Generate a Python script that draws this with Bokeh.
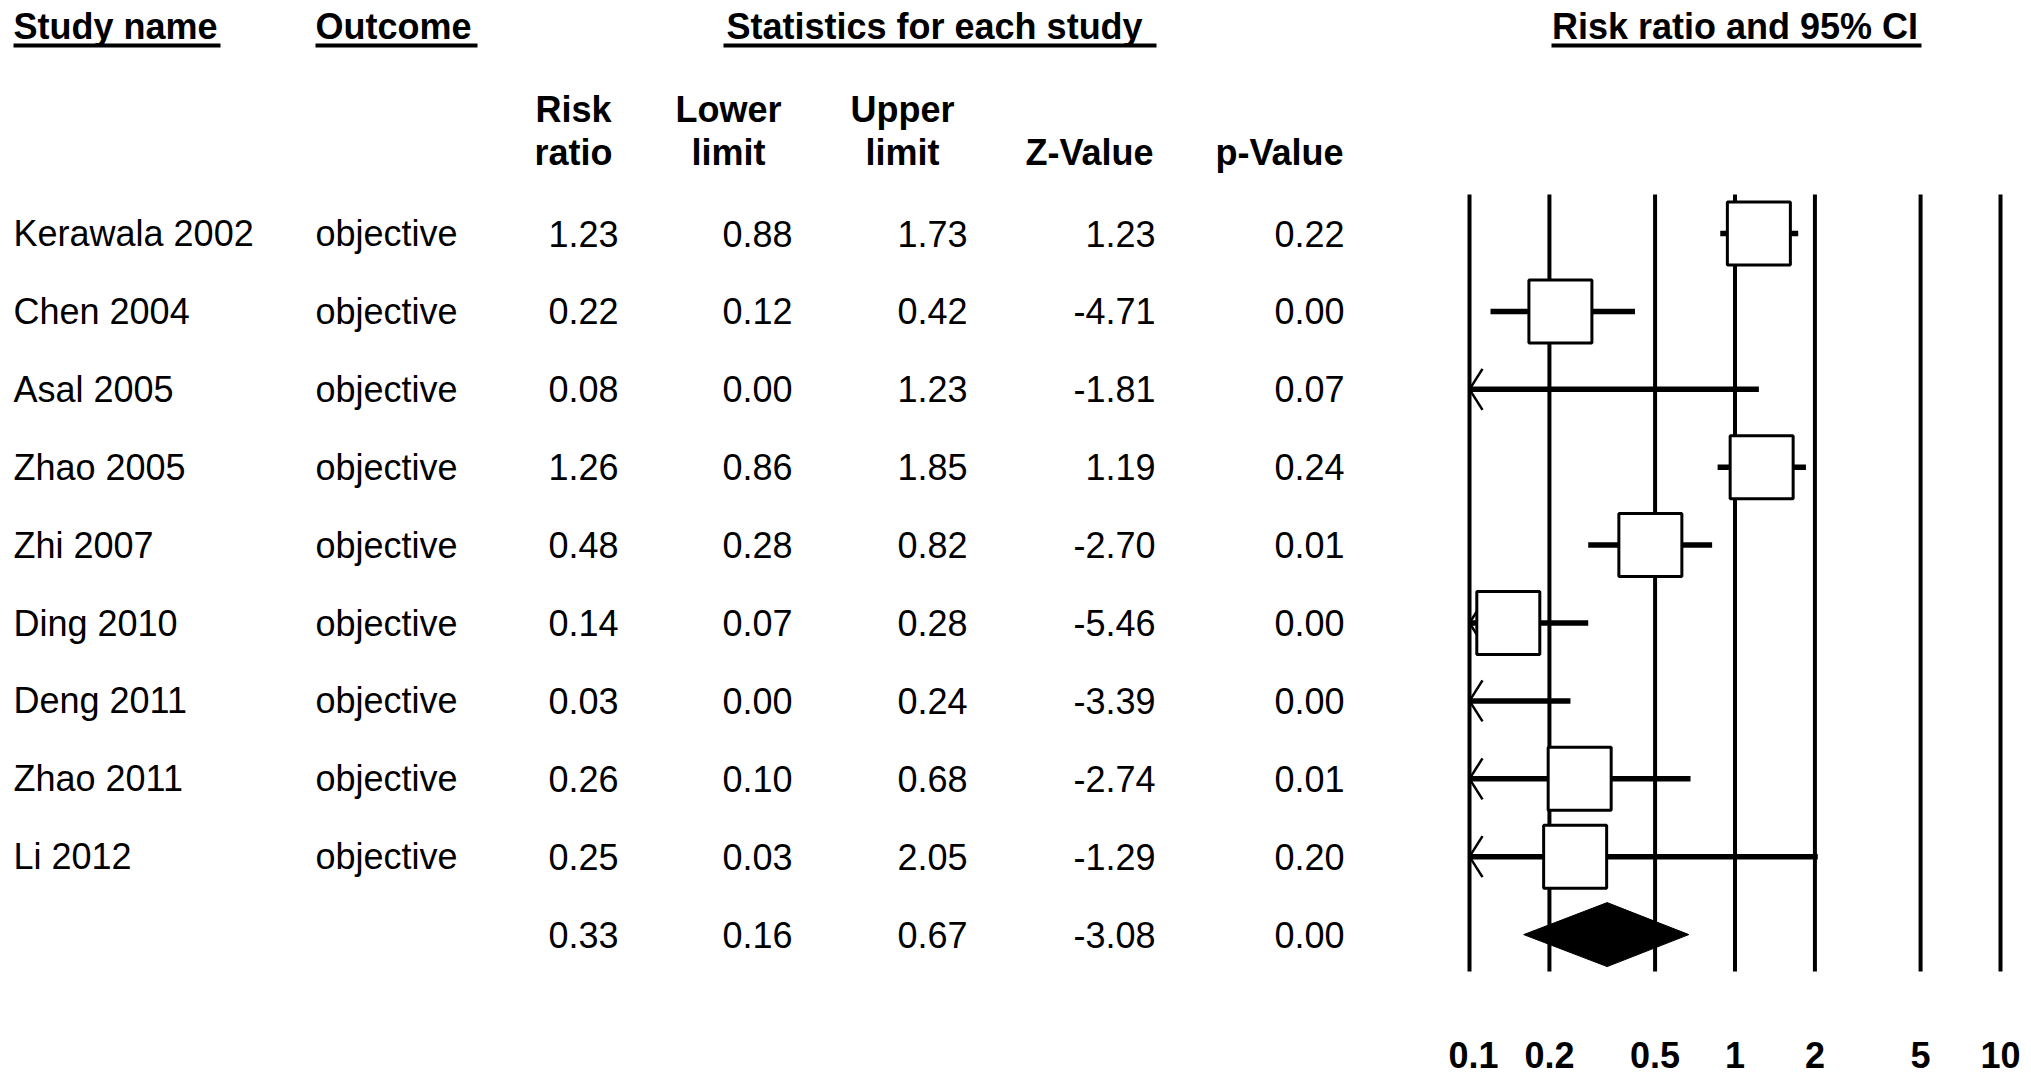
import math
from bokeh.plotting import figure
from bokeh.models import ColumnDataSource, Range1d, FixedTicker, CustomJSTickFormatter
from bokeh.layouts import row
from bokeh.embed import file_html
from bokeh.resources import INLINE
from bokeh.core.properties import value

# ---------------- data ----------------
study = ["Kerawala 2002", "Chen 2004", "Asal 2005", "Zhao 2005", "Zhi 2007",
         "Ding 2010", "Deng 2011", "Zhao 2011", "Li 2012"]
outcome = ["objective", "objective", "objective", "objective", "objective",
           "objective", "objective", "objective", "objective"]
risk_ratio = [1.23, 0.22, 0.08, 1.26, 0.48, 0.14, 0.03, 0.26, 0.25]
lower_limit = [0.88, 0.12, 0.00, 0.86, 0.28, 0.07, 0.00, 0.10, 0.03]
upper_limit = [1.73, 0.42, 1.23, 1.85, 0.82, 0.28, 0.24, 0.68, 2.05]
z_value = [1.23, -4.71, -1.81, 1.19, -2.70, -5.46, -3.39, -2.74, -1.29]
p_value = [0.22, 0.00, 0.07, 0.24, 0.01, 0.00, 0.00, 0.01, 0.20]

summary_rr = 0.33
summary_lower = 0.16
summary_upper = 0.67
summary_z = -3.08
summary_p = 0.00

tick_values = [0.1, 0.2, 0.5, 1, 2, 5, 10]

# ---------------- layout ----------------
FONT = value("Liberation Sans")
FS = value("36px")
PAGE_TOP = 0
H = 1083
B = 112
ROW0_PX = 233.0
ROW_PX = 77.9
frame_bottom_px = PAGE_TOP + H - B
y_top = (PAGE_TOP - ROW0_PX) / ROW_PX
y_bot = (frame_bottom_px - ROW0_PX) / ROW_PX
yr = Range1d(start=y_bot, end=y_top)


def prow(px):
    return (px - ROW0_PX) / ROW_PX


LEFT_W = 1448
RIGHT_W = 575
X_MIN = tick_values[0]
X01_PX = 1469.0
PX_PER_DEC = 265.5
right_left_px = LEFT_W
lo_log = math.log10(X_MIN) - (X01_PX - right_left_px) / PX_PER_DEC
hi_log = lo_log + RIGHT_W / PX_PER_DEC


def px_to_x(px):
    return 10 ** (math.log10(X_MIN) + (px - X01_PX) / PX_PER_DEC)


n = len(study)
rows_all = list(range(n + 1))
summary_row = n


def fmt(v):
    return "%.2f" % v


# ---------------- left (table) ----------------
left = figure(width=LEFT_W, height=H, x_range=Range1d(0, LEFT_W), y_range=yr,
              output_backend="svg", toolbar_location=None,
              x_axis_location=None, y_axis_location=None,
              min_border_left=0, min_border_right=0, min_border_top=0,
              min_border_bottom=B)
left.outline_line_color = None
left.xgrid.grid_line_color = None
left.ygrid.grid_line_color = None

names_src = ColumnDataSource(dict(y=list(range(n)), study=study, outcome=outcome))
left.text(x=13, y="y", text="study", source=names_src, text_font=FONT,
          text_font_size=FS, text_baseline="middle", text_align="left", text_color="black")
left.text(x=315, y="y", text="outcome", source=names_src, text_font=FONT,
          text_font_size=FS, text_baseline="middle", text_align="left", text_color="black")

stats_src = ColumnDataSource(dict(
    y=rows_all,
    rr=[fmt(v) for v in risk_ratio + [summary_rr]],
    lo=[fmt(v) for v in lower_limit + [summary_lower]],
    up=[fmt(v) for v in upper_limit + [summary_upper]],
    z=[fmt(v) for v in z_value + [summary_z]],
    p=[fmt(v) for v in p_value + [summary_p]],
))
for col, xr in [("rr", 618), ("lo", 792), ("up", 967), ("z", 1155), ("p", 1344)]:
    left.text(x=xr, y="y", text=col, source=stats_src, text_font=FONT,
              text_font_size=FS, text_baseline="middle", text_align="right", text_color="black")

# headers
hdr_y = prow(26)
ul_y = prow(45)
for txt, x0, x1 in [("Study name", 13, 220), ("Outcome", 315, 477)]:
    left.text(x=[x0], y=[hdr_y], text=[txt], text_font=FONT, text_font_size=FS,
              text_font_style="bold", text_baseline="middle", text_align="left")
    left.segment(x0=[x0], y0=[ul_y], x1=[x1], y1=[ul_y], line_width=4, line_color="black")
left.text(x=[726], y=[hdr_y], text=["Statistics for each study"], text_font=FONT,
          text_font_size=FS, text_font_style="bold", text_baseline="middle", text_align="left")
left.segment(x0=[723], y0=[ul_y], x1=[1156], y1=[ul_y], line_width=4, line_color="black")

h1 = prow(109)
h2 = prow(152)
for top, bot, xc in [("Risk", "ratio", 573), ("Lower", "limit", 728), ("Upper", "limit", 902)]:
    left.text(x=[xc, xc], y=[h1, h2], text=[top, bot], text_font=FONT, text_font_size=FS,
              text_font_style="bold", text_baseline="middle", text_align="center")
left.text(x=[1153, 1343], y=[h2, h2], text=["Z-Value", "p-Value"], text_font=FONT,
          text_font_size=FS, text_font_style="bold", text_baseline="middle", text_align="right")

# ---------------- right (forest) ----------------
right = figure(width=RIGHT_W, height=H, x_axis_type="log",
               x_range=Range1d(10 ** lo_log, 10 ** hi_log), y_range=yr,
               output_backend="svg", toolbar_location=None,
               y_axis_location=None,
               min_border_left=0, min_border_right=0, min_border_top=0,
               min_border_bottom=B)
right.outline_line_color = None
right.xgrid.grid_line_color = None
right.ygrid.grid_line_color = None
ax = right.xaxis[0]
ax.ticker = FixedTicker(ticks=tick_values, minor_ticks=[])
ax.formatter = CustomJSTickFormatter(code="return String(tick);")
ax.axis_line_color = None
ax.major_tick_line_color = None
ax.minor_tick_line_color = None
ax.major_tick_out = 0
ax.major_tick_in = 0
ax.major_label_standoff = 70
ax.major_label_text_font = "Liberation Sans"
ax.major_label_text_font_size = "36px"
ax.major_label_text_font_style = "bold"
ax.major_label_text_color = "black"

# vertical reference lines
right.segment(x0=tick_values, y0=-0.5, x1=tick_values, y1=summary_row + 0.6,
              line_width=4, line_color="black")

# CI lines
ci_x0 = [max(v, X_MIN) for v in lower_limit]
right.segment(x0=ci_x0, y0=list(range(n)), x1=upper_limit, y1=list(range(n)),
              line_width=5.5, line_color="black")

# arrows for truncated lower limits
arm_x = px_to_x(X01_PX + 13)
arm_dy = 20.5 / ROW_PX
arrow_rows = [i for i in range(n) if lower_limit[i] <= X_MIN]
ax0, ay0, ax1, ay1 = [], [], [], []
for i in arrow_rows:
    for s in (-1, 1):
        ax0.append(X_MIN)
        ay0.append(i)
        ax1.append(arm_x)
        ay1.append(i + s * arm_dy)
right.segment(x0=ax0, y0=ay0, x1=ax1, y1=ay1, line_width=2.5, line_color="black")

# boxes
box_rows = [i for i in range(n) if risk_ratio[i] >= X_MIN]
right.scatter(x=[risk_ratio[i] for i in box_rows], y=box_rows, marker="square", size=63,
              fill_color="white", line_color="black", line_width=3)

# summary diamond
dh = 32 / ROW_PX
right.patch(x=[summary_lower, summary_rr, summary_upper, summary_rr],
            y=[summary_row, summary_row - dh, summary_row, summary_row + dh],
            fill_color="black", line_color="black", line_width=1)

# header
right.text(x=[1.0], y=[hdr_y], text=["Risk ratio and 95% CI"], text_font=FONT,
           text_font_size=FS, text_font_style="bold", text_baseline="middle", text_align="center")
right.segment(x0=[px_to_x(1551)], y0=[ul_y], x1=[px_to_x(1921)], y1=[ul_y],
              line_width=4, line_color="black")

layout = row(left, right)
open("out.html", "w").write(file_html(layout, INLINE))
